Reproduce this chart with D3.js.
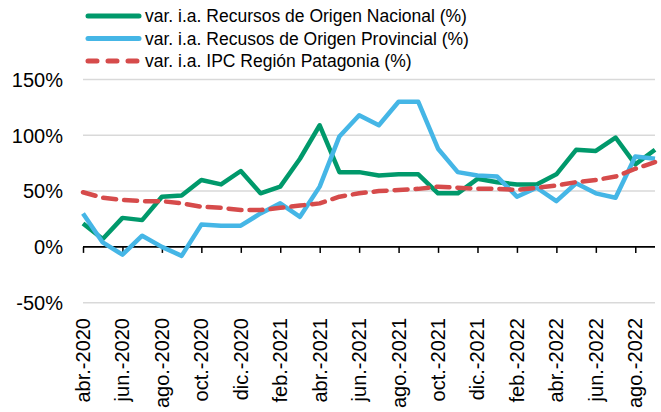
<!DOCTYPE html>
<html>
<head>
<meta charset="utf-8">
<script src="https://cdn.jsdelivr.net/npm/d3@7"></script>
<style>
  body { margin: 0; background: #fff; }
  svg { display: block; font-family: Arial, "Liberation Sans", sans-serif; }
</style>
</head>
<body>
<svg id="chart" width="661" height="412"></svg>
<script>
// months, abr-2020 .. sep-2022
var categories = ["abr.-2020","may.-2020","jun.-2020","jul.-2020","ago.-2020","sep.-2020","oct.-2020","nov.-2020","dic.-2020",
  "ene.-2021","feb.-2021","mar.-2021","abr.-2021","may.-2021","jun.-2021","jul.-2021","ago.-2021","sep.-2021","oct.-2021","nov.-2021","dic.-2021",
  "ene.-2022","feb.-2022","mar.-2022","abr.-2022","may.-2022","jun.-2022","jul.-2022","ago.-2022","sep.-2022"];

var nacional   = [21, 7, 26, 24, 45, 46, 60, 56, 68, 48, 54, 79, 109, 67, 67, 64, 65, 65, 48, 48, 61, 58, 56, 56, 65, 87, 86, 98, 74, 87];
var provincial = [30, 4, -7, 10, 0, -8, 20, 19, 19, 30, 39, 27, 54, 99, 118, 109, 130, 130, 88, 67, 64, 63, 45, 53, 41, 57, 48, 44, 81, 79];
var ipc        = [49, 44, 42, 41, 41, 39, 36, 35, 33, 33, 35, 37, 39, 45, 48, 50, 51, 52, 54, 53, 52, 52, 51, 53, 55, 58, 60, 63, 70, 76];

var yTicks = [-50, 0, 50, 100, 150];

var series = [
  {name: "var. i.a. Recursos de Origen Nacional (%)", values: nacional, color: "#00996b", dash: null},
  {name: "var. i.a. Recusos de Origen Provincial (%)", values: provincial, color: "#45b6e6", dash: null},
  {name: "var. i.a. IPC Región Patagonia (%)", values: ipc, color: "#d64b4b", dash: "13,8"}
];

var svg = d3.select("#chart");

var x = d3.scalePoint().domain(categories).range([83, 655]);
var y = d3.scaleLinear().domain([-50, 150]).range([302.7, 79.5]);

// gridlines
svg.append("g").selectAll("line")
  .data(yTicks.filter(function(d){ return d !== 0; }))
  .enter().append("line")
  .attr("x1", 83).attr("x2", 655)
  .attr("y1", function(d){ return y(d); })
  .attr("y2", function(d){ return y(d); })
  .attr("stroke", "#d9d9d9")
  .attr("stroke-width", 1.5);

// y labels
svg.append("g").selectAll("text")
  .data(yTicks)
  .enter().append("text")
  .attr("x", 63)
  .attr("y", function(d){ return y(d); })
  .attr("dy", "0.36em")
  .attr("text-anchor", "end")
  .style("font-size", "20px")
  .attr("fill", "#000")
  .text(function(d){ return d + "%"; });

// x axis at 0%
var xAxis = d3.axisBottom(x)
  .tickValues(categories.filter(function(d, i){ return i % 2 === 0; }))
  .tickSize(6)
  .tickFormat("");
var ax = svg.append("g")
  .attr("transform", "translate(0," + y(0) + ")")
  .call(xAxis);
ax.select(".domain").attr("stroke", "#000").attr("stroke-width", 1.8).attr("d", "M83,0H655");
ax.selectAll(".tick line").attr("stroke", "#000").attr("stroke-width", 1.5);

// x labels
svg.append("g").selectAll("text")
  .data(categories.filter(function(d, i){ return i % 2 === 0; }))
  .enter().append("text")
  .attr("transform", function(d){ return "translate(" + x(d) + ",318) rotate(-90)"; })
  .attr("dy", "0.35em")
  .attr("text-anchor", "end")
  .style("font-size", "20px")
  .attr("fill", "#000")
  .text(function(d){ return d; });

// lines
var line = d3.line()
  .x(function(d, i){ return x(categories[i]); })
  .y(function(d){ return y(d); });

series.forEach(function(s){
  svg.append("path")
    .datum(s.values)
    .attr("d", line)
    .attr("fill", "none")
    .attr("stroke", s.color)
    .attr("stroke-width", 4.5)
    .attr("stroke-linejoin", "round")
    .attr("stroke-linecap", s.dash ? "round" : "butt")
    .attr("stroke-dasharray", s.dash);
});

// legend
var legY = [16, 38.5, 61];
var leg = svg.append("g").selectAll("g")
  .data(series)
  .enter().append("g")
  .attr("transform", function(d, i){ return "translate(0," + legY[i] + ")"; });

leg.append("line")
  .attr("x1", 88).attr("x2", 139)
  .attr("stroke", function(d){ return d.color; })
  .attr("stroke-width", 5)
  .attr("stroke-linecap", "round")
  .attr("stroke-dasharray", function(d){ return d.dash ? "9,11" : null; });

leg.append("text")
  .attr("x", 145)
  .attr("dy", "0.36em")
  .style("font-size", "17.5px")
  .attr("fill", "#000")
  .text(function(d){ return d.name; });
</script>
</body>
</html>
